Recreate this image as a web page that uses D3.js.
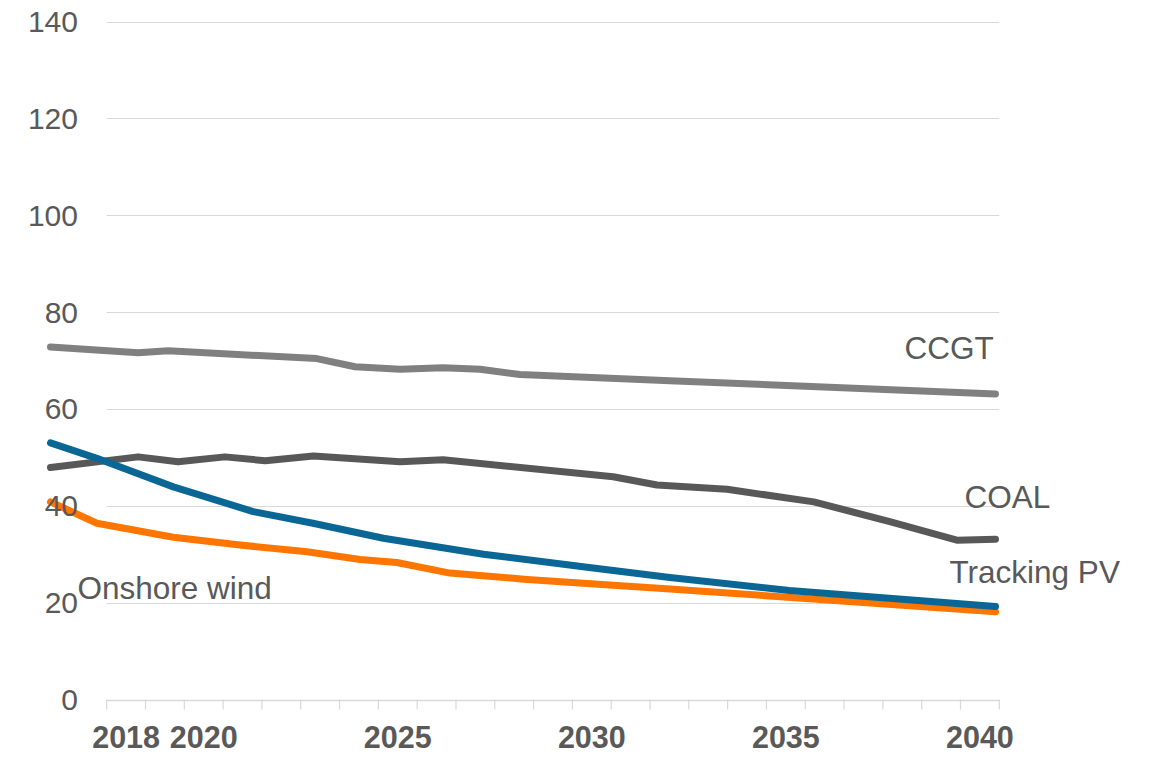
<!DOCTYPE html>
<html>
<head>
<meta charset="utf-8">
<script src="https://cdn.jsdelivr.net/npm/d3@7/dist/d3.min.js"></script>
<style>
  html, body { margin: 0; padding: 0; background: #fff; }
  svg { display: block; }
  text { font-family: "Liberation Sans", Arial, sans-serif; fill: #595959; }
</style>
</head>
<body>
<svg id="chart" width="1152" height="757"></svg>
<script>
// ---- Data ----
const categories = d3.range(2018, 2041);           // x-axis categories
const xTickLabels = [2018, 2020, 2025, 2030, 2035, 2040];
const yTicks = [0, 20, 40, 60, 80, 100, 120, 140];

const ccgtYears  = [2018.0, 2020.04, 2020.74, 2024.2, 2025.09, 2026.14, 2027.14, 2028.0, 2028.93, 2032.42, 2040];
const ccgtValues = [72.8, 71.6, 72.0, 70.4, 68.7, 68.2, 68.5, 68.2, 67.1, 65.8, 63.1];

const coalYears  = [2018.0, 2020.04, 2020.97, 2022.06, 2023.0, 2024.12, 2026.14, 2027.14, 2031.1, 2032.12, 2033.75, 2035.77, 2037.56, 2039.1, 2040];
const coalValues = [47.9, 50.1, 49.1, 50.1, 49.3, 50.3, 49.1, 49.5, 46.0, 44.3, 43.4, 40.8, 36.7, 32.9, 33.1];

const pvYears  = [2018.0, 2019.08, 2020.86, 2022.72, 2024.11, 2025.75, 2028.08, 2030.4, 2032.42, 2035.2, 2040];
const pvValues = [53.0, 49.8, 43.9, 38.8, 36.4, 33.3, 30.0, 27.4, 25.2, 22.5, 19.2];

const windYears  = [2018.0, 2019.08, 2020.86, 2022.41, 2023.97, 2025.21, 2026.06, 2027.3, 2029.1, 2030.4, 2032.42, 2035.75, 2040];
const windValues = [40.8, 36.4, 33.5, 31.9, 30.5, 28.9, 28.3, 26.1, 24.8, 24.0, 22.8, 20.75, 18.1];

const seriesNames = ["CCGT", "COAL", "Tracking PV", "Onshore wind"];

// ---- Build series ----
const zip = (xs, ys) => xs.map((x, i) => ({ x, y: ys[i] }));
const series = [
  { name: "CCGT", color: "#808080", pts: zip(ccgtYears, ccgtValues) },
  { name: "COAL", color: "#585858", pts: zip(coalYears, coalValues) },
  { name: "Onshore wind", color: "#fe7600", pts: zip(windYears, windValues) },
  { name: "Tracking PV", color: "#0a6795", pts: zip(pvYears, pvValues) }
];

// ---- Scales ----
const svg = d3.select("#chart");
const plotLeft = 106.7, plotRight = 999.3;
const y = d3.scaleLinear().domain([0, 140]).range([699.5, 21.5]);
const xBand = d3.scaleBand().domain(categories).range([plotLeft, plotRight]).paddingInner(0).paddingOuter(0);
const xLine = d3.scaleLinear().domain([2018, 2040]).range([50.5, 995.5]);

// ---- Gridlines ----
svg.append("g").selectAll("line").data(yTicks.filter(d => d > 0)).join("line")
  .attr("x1", plotLeft).attr("x2", plotRight)
  .attr("y1", d => Math.round(y(d)) + 0.5).attr("y2", d => Math.round(y(d)) + 0.5)
  .attr("stroke", "#d9d9d9").attr("stroke-width", 1);

// ---- X axis ----
const xAxisG = svg.append("g");
xAxisG.append("line")
  .attr("x1", plotLeft).attr("x2", plotRight)
  .attr("y1", Math.round(y(0)) + 0.5).attr("y2", Math.round(y(0)) + 0.5)
  .attr("stroke", "#d9d9d9").attr("stroke-width", 1.5);
const boundaries = categories.map(c => xBand(c)).concat([plotRight]);
xAxisG.selectAll("line.tick").data(boundaries).join("line")
  .attr("class", "tick")
  .attr("x1", d => d).attr("x2", d => d)
  .attr("y1", y(0)).attr("y2", y(0) + 10)
  .attr("stroke", "#d9d9d9").attr("stroke-width", 1.2);
xAxisG.selectAll("text").data(xTickLabels).join("text")
  .attr("x", d => xBand(d) + xBand.bandwidth() / 2)
  .attr("y", 748)
  .attr("text-anchor", "middle")
  .attr("font-size", 30.5)
  .attr("font-weight", "bold")
  .text(d => d);

// ---- Lines ----
const line = d3.line().x(d => xLine(d.x)).y(d => y(d.y));
svg.append("g").selectAll("path").data(series).join("path")
  .attr("d", d => line(d.pts))
  .attr("fill", "none")
  .attr("stroke", d => d.color)
  .attr("stroke-width", 7)
  .attr("stroke-linecap", "round")
  .attr("stroke-linejoin", "round");

// ---- Y tick labels ----
svg.append("g").selectAll("text").data(yTicks).join("text")
  .attr("x", 78)
  .attr("y", d => y(d) + 10.5)
  .attr("text-anchor", "end")
  .attr("font-size", 30)
  .text(d => d);

// ---- Series labels ----
const labelPos = [
  { name: "CCGT", x: 2040, v: 63.1, dx: -91, dy: -35 },
  { name: "COAL", x: 2040, v: 33.1, dx: -31, dy: -31 },
  { name: "Tracking PV", x: 2040, v: 19.2, dx: -46, dy: -24 },
  { name: "Onshore wind", x: 2018, v: 40.8, dx: 27, dy: 97 }
];
svg.append("g").selectAll("text").data(labelPos).join("text")
  .attr("x", d => xLine(d.x) + d.dx)
  .attr("y", d => y(d.v) + d.dy)
  .attr("font-size", 31.5)
  .text(d => d.name);
</script>
</body>
</html>
